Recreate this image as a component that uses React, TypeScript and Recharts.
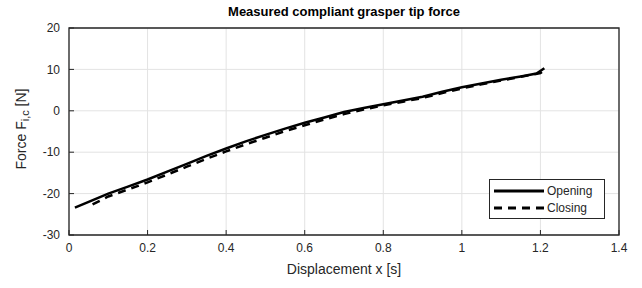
import { LineChart, Line, XAxis, YAxis, CartesianGrid, ReferenceArea } from 'recharts'

const FONT = '"Liberation Sans", Arial, Helvetica, sans-serif'
const INK = '#262626'

// displacement ticks + force ticks
const xTicks = [0, 0.2, 0.4, 0.6, 0.8, 1, 1.2, 1.4]
const yTicks = [-30, -20, -10, 0, 10, 20]

// Opening (solid)
const openX = [0.015, 0.05, 0.1, 0.15, 0.2, 0.25, 0.3, 0.35, 0.4, 0.45, 0.5, 0.55, 0.6, 0.65, 0.7, 0.75, 0.8, 0.85, 0.9, 0.95, 1.0, 1.05, 1.1, 1.15, 1.19, 1.21]
const openF = [-23.4, -22.0, -20.0, -18.3, -16.6, -14.7, -12.8, -10.9, -9.1, -7.4, -5.8, -4.3, -2.9, -1.6, -0.3, 0.7, 1.6, 2.5, 3.4, 4.6, 5.7, 6.6, 7.5, 8.3, 9.0, 10.3]

// Closing (dashed)
const closeX = [0.06, 0.1, 0.15, 0.2, 0.25, 0.3, 0.35, 0.4, 0.45, 0.5, 0.55, 0.6, 0.65, 0.7, 0.75, 0.8, 0.85, 0.9, 0.95, 1.0, 1.05, 1.1, 1.15, 1.2, 1.21]
const closeF = [-22.6, -20.7, -19.0, -17.3, -15.4, -13.5, -11.6, -9.8, -8.1, -6.5, -4.9, -3.5, -2.1, -0.8, 0.3, 1.3, 2.2, 3.1, 4.3, 5.4, 6.4, 7.3, 8.2, 9.1, 9.9]

const openData = openX.map((x, i) => ({ x, f: openF[i] }))
const closeData = closeX.map((x, i) => ({ x, f: closeF[i] }))

const fmt = (v: number) => String(Math.round(v * 10) / 10)

function LegendBox() {
  const row = (dash: string | undefined, label: string) => (
    <div style={{ display: 'flex', alignItems: 'center', height: 17 }}>
      <svg width={54} height={6}>
        <line x1={2} y1={3} x2={52} y2={3} stroke="#000" strokeWidth={3} strokeDasharray={dash} />
      </svg>
      <span style={{ marginLeft: 1 }}>{label}</span>
    </div>
  )
  return (
    <div style={{ position: 'absolute', left: 489, top: 179, border: `1px solid ${INK}`, background: '#fff', width: 116, padding: '2px 0 2px 2px', fontFamily: FONT, fontSize: 12, color: INK, boxSizing: 'border-box' }}>
      {row(undefined, 'Opening')}
      {row('8 6', 'Closing')}
    </div>
  )
}

export default function App() {
  return (
    <div style={{ position: 'absolute', left: 0, top: 0, width: 642, height: 288, background: '#fff', fontFamily: FONT }}>
      <LineChart width={642} height={288} margin={{ top: 28, right: 23, bottom: 23, left: 29 }}>
        <CartesianGrid stroke="#e3e3e3" strokeWidth={1} />
        {/* negative tickSize -> MATLAB style inward ticks */}
        <XAxis type="number" dataKey="x" domain={[0, 1.4]} ticks={xTicks} tickFormatter={fmt} height={30}
          axisLine={false} tickSize={-5} tickMargin={13} tickLine={{ stroke: INK }}
          tick={{ fill: INK, fontSize: 12, fontFamily: FONT }} allowDataOverflow />
        <YAxis type="number" domain={[-30, 20]} ticks={yTicks} width={40} axisLine={false}
          tickSize={-5} tickMargin={14} tickLine={{ stroke: INK }}
          tick={{ fill: INK, fontSize: 12, fontFamily: FONT }} allowDataOverflow />
        <Line data={closeData} dataKey="f" type="linear" stroke="#000" strokeWidth={2.5} strokeDasharray="8 6" dot={false} isAnimationActive={false} name="Closing" />
        <Line data={openData} dataKey="f" type="linear" stroke="#000" strokeWidth={2.5} dot={false} isAnimationActive={false} name="Opening" />
        <ReferenceArea x1={0} x2={1.4} y1={-30} y2={20} fill="none" stroke={INK} strokeWidth={1.3} ifOverflow="visible" />
      </LineChart>
      <div style={{ position: 'absolute', left: 69, width: 550, top: 4, textAlign: 'center', fontWeight: 'bold', fontSize: 13, color: '#000' }}>
        Measured compliant grasper tip force
      </div>
      <div style={{ position: 'absolute', left: 22, top: 129, width: 0, height: 0 }}>
        <div style={{ position: 'absolute', transform: 'translate(-50%, -50%) rotate(-90deg)', whiteSpace: 'nowrap', fontSize: 14, color: INK }}>
          Force F<sub style={{ fontSize: 11 }}>i,c</sub> [N]
        </div>
      </div>
      <div style={{ position: 'absolute', left: 69, width: 550, top: 261, textAlign: 'center', fontSize: 14, color: INK }}>
        Displacement x [s]
      </div>
      <LegendBox />
    </div>
  )
}
